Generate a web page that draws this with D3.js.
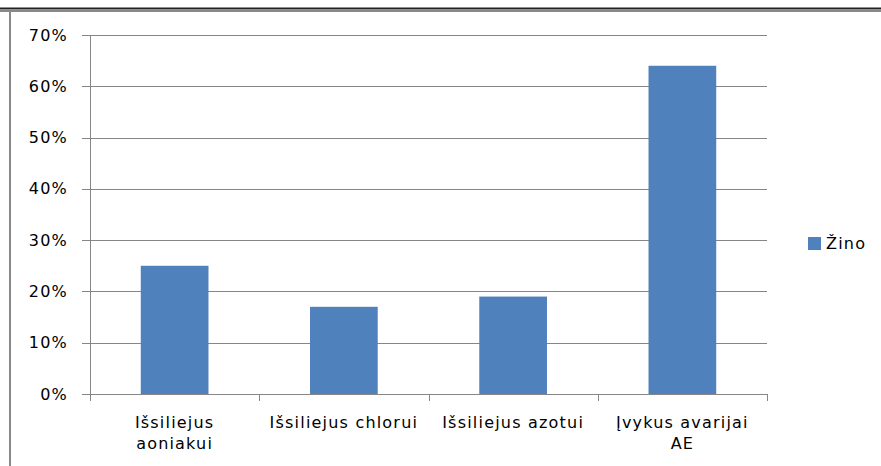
<!DOCTYPE html>
<meta charset="utf-8">
<html>
<style>
body { margin: 0; background: #fff; }
text { font-family: "DejaVu Sans", sans-serif; fill: #000; font-size: 16px; letter-spacing: 1.2px; }
</style>
<body>
<svg width="881" height="466"></svg>
<script src="https://d3js.org/d3.v7.min.js"></script>
<script>

// data
var categories = ["Išsiliejus\naoniakui", "Išsiliejus chlorui", "Išsiliejus azotui", "Įvykus avarijai\nAE"];
var values = [0.25, 0.17, 0.19, 0.64];
var yTicks = [0, 0.1, 0.2, 0.3, 0.4, 0.5, 0.6, 0.7];
var seriesName = "Žino";

var svg = d3.select("svg");

var plotLeft = 90, plotRight = 767, plotTop = 35, plotBottom = 394;

// frame of the picture
svg.append("line").attr("x1", 0).attr("x2", 881).attr("y1", 8.5).attr("y2", 8.5)
    .attr("stroke", "#222").attr("stroke-width", 2);
svg.append("line").attr("x1", 0).attr("x2", 881).attr("y1", 11).attr("y2", 11)
    .attr("stroke", "#888").attr("stroke-width", 2);
svg.append("line").attr("x1", 10).attr("x2", 10).attr("y1", 11).attr("y2", 466)
    .attr("stroke", "#888").attr("stroke-width", 2);

var x = d3.scaleBand().domain(categories).range([plotLeft, plotRight]).paddingInner(0.6).paddingOuter(0.3);
var xOuter = d3.scaleBand().domain(categories).range([plotLeft, plotRight]);
var y = d3.scaleLinear().domain([0, 0.7]).range([plotBottom, plotTop]);

// gridlines
svg.append("g").selectAll("line")
  .data(yTicks)
  .enter().append("line")
    .attr("x1", plotLeft - 8).attr("x2", plotRight)
    .attr("y1", function(d) { return Math.round(y(d)) + 0.5; })
    .attr("y2", function(d) { return Math.round(y(d)) + 0.5; })
    .attr("stroke", "#868686").attr("stroke-width", 1);

// y axis line
svg.append("line").attr("x1", plotLeft + 0.5).attr("x2", plotLeft + 0.5).attr("y1", plotTop).attr("y2", plotBottom)
    .attr("stroke", "#868686");

// y labels
svg.append("g").selectAll("text")
  .data(yTicks)
  .enter().append("text")
    .attr("x", 68).attr("y", function(d) { return y(d); })
    .attr("dy", "0.35em")
    .attr("text-anchor", "end")
    .text(function(d) { return Math.round(d * 100) + "%"; });

// category ticks
var tickX = categories.map(function(c) { return xOuter(c); }).concat([plotRight]);
svg.append("g").selectAll("line")
  .data(tickX)
  .enter().append("line")
    .attr("x1", function(d) { return Math.round(d) + 0.5; })
    .attr("x2", function(d) { return Math.round(d) + 0.5; })
    .attr("y1", plotBottom).attr("y2", plotBottom + 7)
    .attr("stroke", "#868686");

// bars
svg.append("g").selectAll("rect")
  .data(values)
  .enter().append("rect")
    .attr("x", function(d, i) { return x(categories[i]); })
    .attr("width", x.bandwidth())
    .attr("y", function(d) { return y(d); })
    .attr("height", function(d) { return plotBottom - y(d); })
    .attr("fill", "#4F81BD");

// category labels
var lab = svg.append("g").selectAll("text")
  .data(categories)
  .enter().append("text")
    .attr("text-anchor", "middle")
    .attr("x", function(d) { return xOuter(d) + xOuter.bandwidth() / 2; })
    .attr("y", 428);
lab.selectAll("tspan")
  .data(function(d) { return d.split("\n").map(function(t) { return {t: t, c: d}; }); })
  .enter().append("tspan")
    .attr("x", function(d) { return xOuter(d.c) + xOuter.bandwidth() / 2; })
    .attr("dy", function(d, i) { return i ? 21 : 0; })
    .text(function(d) { return d.t; });

// legend
svg.append("rect").attr("x", 808).attr("y", 237).attr("width", 13).attr("height", 13).attr("fill", "#4F81BD");
svg.append("text").attr("x", 826).attr("y", 243).attr("dy", "0.35em").text(seriesName);

</script>
</body>
</html>
